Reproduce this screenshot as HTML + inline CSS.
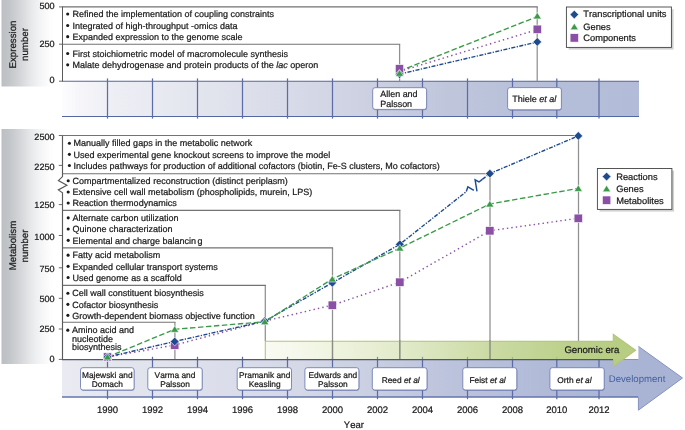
<!DOCTYPE html>
<html><head><meta charset="utf-8"><title>Figure</title>
<style>
html,body{margin:0;padding:0;background:#fff;}
svg{display:block;will-change:transform;}
text{font-family:"Liberation Sans",sans-serif;fill:#1a1a1a;text-rendering:geometricPrecision;font-kerning:none;stroke:#1a1a1a;stroke-width:0.22px;}
.t{font-size:9px;}
.a{font-size:9.5px;}
.b{font-size:8.45px;}
.l{font-size:9.3px;}
</style></head><body>
<svg width="685" height="430" viewBox="0 0 685 430">
<defs>
<linearGradient id="gp" gradientUnits="userSpaceOnUse" x1="0" x2="54" y1="0" y2="0"><stop offset="0" stop-color="#b9bcc0"/><stop offset="0.185" stop-color="#c4c7ca"/><stop offset="0.37" stop-color="#d3d5d8"/><stop offset="0.555" stop-color="#e5e7e9"/><stop offset="0.74" stop-color="#f3f4f5"/><stop offset="0.93" stop-color="#fdfdfd"/><stop offset="1" stop-color="#ffffff"/></linearGradient>
<linearGradient id="gb" gradientUnits="userSpaceOnUse" x1="62" x2="640" y1="0" y2="0"><stop offset="0" stop-color="#fdfdfe"/><stop offset="0.03" stop-color="#f6f6fa"/><stop offset="0.083" stop-color="#eeeff5"/><stop offset="0.24" stop-color="#e3e5ee"/><stop offset="0.41" stop-color="#d6d9e7"/><stop offset="0.52" stop-color="#cdd1e2"/><stop offset="0.67" stop-color="#bfc6dc"/><stop offset="0.76" stop-color="#bac2da"/><stop offset="0.86" stop-color="#b5bed9"/><stop offset="1" stop-color="#b2bcd8"/></linearGradient>
<linearGradient id="gb2" gradientUnits="userSpaceOnUse" x1="62" x2="640" y1="0" y2="0"><stop offset="0" stop-color="#eaebf2"/><stop offset="0.083" stop-color="#e4e6ee"/><stop offset="0.24" stop-color="#dddfeb"/><stop offset="0.41" stop-color="#d4d8e7"/><stop offset="0.52" stop-color="#cbd0e2"/><stop offset="0.67" stop-color="#bcc3dc"/><stop offset="0.76" stop-color="#b6bfda"/><stop offset="0.86" stop-color="#afb9d7"/><stop offset="1" stop-color="#a9b4d5"/></linearGradient>
<linearGradient id="gg" gradientUnits="userSpaceOnUse" x1="265" x2="625" y1="0" y2="0"><stop offset="0" stop-color="#c8d88a" stop-opacity="0.10"/><stop offset="0.38" stop-color="#b8cd80" stop-opacity="0.42"/><stop offset="0.63" stop-color="#b6cc80" stop-opacity="0.72"/><stop offset="0.87" stop-color="#b6cc80" stop-opacity="0.94"/><stop offset="1" stop-color="#b7cd82" stop-opacity="1"/></linearGradient>
<filter id="sh" x="-10%" y="-10%" width="130%" height="140%"><feGaussianBlur stdDeviation="0.6"/></filter>
</defs>
<rect width="685" height="430" fill="#fff"/>
<rect x="1.5" y="0" width="52.5" height="86.5" fill="url(#gp)"/>
<rect x="1.5" y="129" width="52.5" height="235" fill="url(#gp)"/>

<rect x="62" y="81" width="577" height="35.5" fill="url(#gb)"/>
<path d="M62,116.5H639" stroke="#5567a2" stroke-width="1" fill="none"/>
<path d="M62,81.2H639" stroke="#596899" stroke-width="1.1" fill="none"/>
<path d="M107.5,78.4V118.6" stroke="#5c6ca6" stroke-width="1.25"/>
<path d="M152.5,78.4V118.6" stroke="#5c6ca6" stroke-width="1.25"/>
<path d="M197.5,78.4V118.6" stroke="#5c6ca6" stroke-width="1.25"/>
<path d="M242.5,78.4V118.6" stroke="#5c6ca6" stroke-width="1.25"/>
<path d="M287.5,78.4V118.6" stroke="#5c6ca6" stroke-width="1.25"/>
<path d="M332.5,78.4V118.6" stroke="#5c6ca6" stroke-width="1.25"/>
<path d="M377.5,78.4V118.6" stroke="#5c6ca6" stroke-width="1.25"/>
<path d="M422.5,78.4V118.6" stroke="#5c6ca6" stroke-width="1.25"/>
<path d="M467.5,78.4V118.6" stroke="#5c6ca6" stroke-width="1.25"/>
<path d="M512.5,78.4V118.6" stroke="#5c6ca6" stroke-width="1.25"/>
<path d="M556.8,78.4V118.6" stroke="#5c6ca6" stroke-width="1.25"/>
<path d="M599.0,78.4V118.6" stroke="#5c6ca6" stroke-width="1.25"/>
<path d="M62,359.5H638.4V346.3L682.5,378L638.4,410.2V397H62Z" fill="url(#gb2)"/>
<path d="M62,359.5H638.4M638.4,346.3L682.5,378L638.4,410.2V397H62" stroke="#8593c0" stroke-width="1" fill="none"/>
<path d="M62,397H638" stroke="#5567a2" stroke-width="1" fill="none"/>
<path d="M107.5,356.8V399.2" stroke="#5c6ca6" stroke-width="1.25"/>
<path d="M152.5,356.8V399.2" stroke="#5c6ca6" stroke-width="1.25"/>
<path d="M197.5,356.8V399.2" stroke="#5c6ca6" stroke-width="1.25"/>
<path d="M242.5,356.8V399.2" stroke="#5c6ca6" stroke-width="1.25"/>
<path d="M287.5,356.8V399.2" stroke="#5c6ca6" stroke-width="1.25"/>
<path d="M332.5,356.8V399.2" stroke="#5c6ca6" stroke-width="1.25"/>
<path d="M377.5,356.8V399.2" stroke="#5c6ca6" stroke-width="1.25"/>
<path d="M422.5,356.8V399.2" stroke="#5c6ca6" stroke-width="1.25"/>
<path d="M467.5,356.8V399.2" stroke="#5c6ca6" stroke-width="1.25"/>
<path d="M512.5,356.8V399.2" stroke="#5c6ca6" stroke-width="1.25"/>
<path d="M556.8,356.8V399.2" stroke="#5c6ca6" stroke-width="1.25"/>
<path d="M599.0,356.8V399.2" stroke="#5c6ca6" stroke-width="1.25"/>
<path d="M537.2,6.9V81M399.6,44.2V81" stroke="#909090" stroke-width="1.25" fill="none"/>
<path d="M62.5,6.9H537.8M62.5,44.2H400.2" stroke="#737373" stroke-width="1.1" fill="none"/>
<path d="M62.5,6.4V81.3" stroke="#5a5a5a" stroke-width="1" fill="none"/>
<path d="M59,6.9H62.5M59,44.2H62.5M59,81.2H62.5" stroke="#5a5a5a" stroke-width="0.9" fill="none"/>
<path d="M578.5,135.5V341M490,173.8V359M399.8,210.4V359M332.5,247.9V359M265.3,285.4V341M174.9,322.2V359" stroke="#909090" stroke-width="1.25" fill="none"/>
<path d="M62.5,135.5H579.1M62.5,173.8H490.6M62.5,210.4H400.4M62.5,247.9H333.1M62.5,285.4H265.9M62.5,322.2H175.5" stroke="#737373" stroke-width="1.1" fill="none"/>
<path d="M62.5,135.5V176.6L58.4,180.6L66.9,185.3L58.3,189.9L62.5,192.9V359.4" stroke="#5a5a5a" stroke-width="1.15" fill="none"/>
<path d="M58.8,135.5H62.5 M58.8,165.4H62.5 M58.8,204.6H62.5 M58.8,235.5H62.5 M58.8,267.8H62.5 M58.8,298.3H62.5 M58.8,329.0H62.5 M58.8,359.4H62.5" stroke="#5a5a5a" stroke-width="0.9" fill="none"/>
<path d="M265.2,341H613.3V334.4L635.6,350.3L613.3,366.4V359.4H265.2Z" fill="url(#gg)"/>
<path d="M265.3,359.4V341.2H613.3V334.4L635.6,350.3L613.3,366.4V359.4" stroke="#b3c47a" stroke-width="1.1" fill="none"/>
<path d="M490,340V359M399.8,340V359M332.5,340V359" stroke="#8a8d84" stroke-width="1.25" fill="none"/>
<path d="M62,359.6H613" stroke="#50566e" stroke-width="1.2" fill="none"/>
<rect x="373.2" y="88.60000000000001" width="53.900000000000034" height="21.700000000000003" rx="2.4" fill="#5b689c" opacity="0.5" filter="url(#sh)"/>
<rect x="372.7" y="87.7" width="53.900000000000034" height="21.700000000000003" rx="2.4" fill="#fff" stroke="#7481b3" stroke-width="0.9"/>
<text x="380.3" y="96.9" style="font-size:8.95px">Allen and</text>
<text x="380.3" y="107.1" style="font-size:8.95px">Palsson</text>
<rect x="508.1" y="88.5" width="53.799999999999955" height="22.200000000000003" rx="2.4" fill="#5b689c" opacity="0.5" filter="url(#sh)"/>
<rect x="507.6" y="87.6" width="53.799999999999955" height="22.200000000000003" rx="2.4" fill="#fff" stroke="#7481b3" stroke-width="0.9"/>
<text x="512.3" y="102.0" style="font-size:9.0px">Thiele <tspan font-style="italic">et al</tspan></text>
<rect x="81.0" y="368.59999999999997" width="53.599999999999994" height="22.30000000000001" rx="2.4" fill="#5b689c" opacity="0.5" filter="url(#sh)"/>
<rect x="80.5" y="367.7" width="53.599999999999994" height="22.30000000000001" rx="2.4" fill="#fff" stroke="#7481b3" stroke-width="0.9"/>
<text x="107.3" y="377.9" text-anchor="middle" style="font-size:8.35px">Majewski and</text>
<text x="107.3" y="386.6" text-anchor="middle" style="font-size:8.35px">Domach</text>
<rect x="148.3" y="368.59999999999997" width="54.39999999999998" height="22.30000000000001" rx="2.4" fill="#5b689c" opacity="0.5" filter="url(#sh)"/>
<rect x="147.8" y="367.7" width="54.39999999999998" height="22.30000000000001" rx="2.4" fill="#fff" stroke="#7481b3" stroke-width="0.9"/>
<text x="175.0" y="377.9" text-anchor="middle" style="font-size:8.35px">Varma and</text>
<text x="175.0" y="386.6" text-anchor="middle" style="font-size:8.35px">Palsson</text>
<rect x="237.7" y="368.59999999999997" width="54.30000000000001" height="22.30000000000001" rx="2.4" fill="#5b689c" opacity="0.5" filter="url(#sh)"/>
<rect x="237.2" y="367.7" width="54.30000000000001" height="22.30000000000001" rx="2.4" fill="#fff" stroke="#7481b3" stroke-width="0.9"/>
<text x="264.65000000000003" y="377.9" text-anchor="middle" style="font-size:8.35px">Pramanik and</text>
<text x="264.65000000000003" y="386.6" text-anchor="middle" style="font-size:8.35px">Keasling</text>
<rect x="305.4" y="368.59999999999997" width="54.0" height="22.30000000000001" rx="2.4" fill="#5b689c" opacity="0.5" filter="url(#sh)"/>
<rect x="304.9" y="367.7" width="54.0" height="22.30000000000001" rx="2.4" fill="#fff" stroke="#7481b3" stroke-width="0.9"/>
<text x="332.9" y="377.9" text-anchor="middle" style="font-size:8.35px">Edwards and</text>
<text x="332.9" y="386.6" text-anchor="middle" style="font-size:8.35px">Palsson</text>
<rect x="372.8" y="368.59999999999997" width="54.69999999999999" height="22.30000000000001" rx="2.4" fill="#5b689c" opacity="0.5" filter="url(#sh)"/>
<rect x="372.3" y="367.7" width="54.69999999999999" height="22.30000000000001" rx="2.4" fill="#fff" stroke="#7481b3" stroke-width="0.9"/>
<text x="381.7" y="382.5" style="font-size:8.35px">Reed <tspan font-style="italic">et al</tspan></text>
<rect x="463.3" y="368.59999999999997" width="53.99999999999994" height="22.30000000000001" rx="2.4" fill="#5b689c" opacity="0.5" filter="url(#sh)"/>
<rect x="462.8" y="367.7" width="53.99999999999994" height="22.30000000000001" rx="2.4" fill="#fff" stroke="#7481b3" stroke-width="0.9"/>
<text x="469.5" y="382.5" style="font-size:8.35px">Feist <tspan font-style="italic">et al</tspan></text>
<rect x="550.4" y="368.59999999999997" width="54.30000000000007" height="22.30000000000001" rx="2.4" fill="#5b689c" opacity="0.5" filter="url(#sh)"/>
<rect x="549.9" y="367.7" width="54.30000000000007" height="22.30000000000001" rx="2.4" fill="#fff" stroke="#7481b3" stroke-width="0.9"/>
<text x="557.3" y="382.5" style="font-size:8.35px">Orth <tspan font-style="italic">et al</tspan></text>
<path d="M399.5,71.4L537.3,29.6" stroke="#8b4fa6" stroke-width="1.45" fill="none" stroke-dasharray="1.4 3.1"/>
<path d="M399.5,74.1L537.3,42.0" stroke="#1f4b8e" stroke-width="1.4" fill="none" stroke-dasharray="4.1 1.4 1.3 1.4"/>
<path d="M399.5,71.0L537.3,16.6" stroke="#3a9a48" stroke-width="1.35" fill="none" stroke-dasharray="5.5 2.5"/>
<rect x="395.3" y="64.6" width="8.4" height="8.4" fill="#8b4fa6" stroke="#fff" stroke-width="0.6"/>
<rect x="533.0999999999999" y="25.1" width="8.4" height="8.4" fill="#8b4fa6" stroke="#fff" stroke-width="0.6"/>
<path d="M399.5,69.85000000000001L403.85,74.2L399.5,78.55L395.15,74.2Z" fill="#1f4b8e" stroke="#fff" stroke-width="0.6"/>
<path d="M537.3,37.55L541.65,41.9L537.3,46.25L532.9499999999999,41.9Z" fill="#1f4b8e" stroke="#fff" stroke-width="0.6"/>
<path d="M399.5,69.7L403.6,76.3L395.4,76.3Z" fill="#3a9a48" stroke="#fff" stroke-width="0.6"/>
<path d="M537.3,12.3L541.4,18.9L533.1999999999999,18.9Z" fill="#3a9a48" stroke="#fff" stroke-width="0.6"/>
<path d="M107.5,357L174.7,345.1L264.8,321.1L332.3,305.2L399.8,282.2L489.8,230.8L578.3,218.3" stroke="#8b4fa6" stroke-width="1.45" fill="none" stroke-dasharray="1.4 3.1"/>
<path d="M107.5,357L174.7,341.5L264.8,321.1L332.3,282.8L399.8,244.3L466.3,191.6" stroke="#1f4b8e" stroke-width="1.4" fill="none" stroke-dasharray="4.1 1.4 1.3 1.4"/>
<path d="M466.3,191.6L467.9,186.8L473.9,190.3M477,191.3L475.1,179.8L479,182L482.3,179.4" stroke="#1f4b8e" stroke-width="1.45" fill="none" stroke-linejoin="miter"/>
<path d="M482.3,179.4L489.9,173.6L578.3,135.9" stroke="#1f4b8e" stroke-width="1.4" fill="none" stroke-dasharray="4.1 1.4 1.3 1.4"/>
<path d="M107.5,357L174.7,329.3L264.8,321.7L332.3,279L399.8,248.1L489.8,204L578.3,188.4" stroke="#3a9a48" stroke-width="1.35" fill="none" stroke-dasharray="5.5 2.5"/>
<rect x="103.3" y="352.8" width="8.4" height="8.4" fill="#8b4fa6" stroke="#fff" stroke-width="0.6"/>
<rect x="170.5" y="340.90000000000003" width="8.4" height="8.4" fill="#8b4fa6" stroke="#fff" stroke-width="0.6"/>
<rect x="328.1" y="301.0" width="8.4" height="8.4" fill="#8b4fa6" stroke="#fff" stroke-width="0.6"/>
<rect x="395.6" y="278.0" width="8.4" height="8.4" fill="#8b4fa6" stroke="#fff" stroke-width="0.6"/>
<rect x="485.6" y="226.60000000000002" width="8.4" height="8.4" fill="#8b4fa6" stroke="#fff" stroke-width="0.6"/>
<rect x="574.0999999999999" y="214.10000000000002" width="8.4" height="8.4" fill="#8b4fa6" stroke="#fff" stroke-width="0.6"/>
<path d="M107.5,352.65L111.85,357L107.5,361.35L103.15,357Z" fill="#1f4b8e" stroke="#fff" stroke-width="0.6"/>
<path d="M174.7,337.15L179.04999999999998,341.5L174.7,345.85L170.35,341.5Z" fill="#1f4b8e" stroke="#fff" stroke-width="0.6"/>
<path d="M264.8,316.75L269.15000000000003,321.1L264.8,325.45000000000005L260.45,321.1Z" fill="#1f4b8e" stroke="#fff" stroke-width="0.6"/>
<path d="M332.3,278.45L336.65000000000003,282.8L332.3,287.15000000000003L327.95,282.8Z" fill="#1f4b8e" stroke="#fff" stroke-width="0.6"/>
<path d="M399.8,239.95000000000002L404.15000000000003,244.3L399.8,248.65L395.45,244.3Z" fill="#1f4b8e" stroke="#fff" stroke-width="0.6"/>
<path d="M489.9,169.25L494.25,173.6L489.9,177.95L485.54999999999995,173.6Z" fill="#1f4b8e" stroke="#fff" stroke-width="0.6"/>
<path d="M578.3,131.55L582.65,135.9L578.3,140.25L573.9499999999999,135.9Z" fill="#1f4b8e" stroke="#fff" stroke-width="0.6"/>
<path d="M107.5,353.4L111.6,360.0L103.4,360.0Z" fill="#3a9a48" stroke="#fff" stroke-width="0.6"/>
<path d="M174.7,325.7L178.79999999999998,332.3L170.6,332.3Z" fill="#3a9a48" stroke="#fff" stroke-width="0.6"/>
<path d="M264.8,318.09999999999997L268.90000000000003,324.7L260.7,324.7Z" fill="#3a9a48" stroke="#fff" stroke-width="0.6"/>
<path d="M332.3,275.4L336.40000000000003,282.0L328.2,282.0Z" fill="#3a9a48" stroke="#fff" stroke-width="0.6"/>
<path d="M399.8,244.49999999999997L403.90000000000003,251.1L395.7,251.1Z" fill="#3a9a48" stroke="#fff" stroke-width="0.6"/>
<path d="M489.8,200.39999999999998L493.90000000000003,207.0L485.7,207.0Z" fill="#3a9a48" stroke="#fff" stroke-width="0.6"/>
<path d="M578.3,184.79999999999998L582.4,191.4L574.1999999999999,191.4Z" fill="#3a9a48" stroke="#fff" stroke-width="0.6"/>
<text class="a" x="54.6" y="9.4" text-anchor="end" style="font-size:9.1px">500</text>
<text class="a" x="54.6" y="47.0" text-anchor="end" style="font-size:9.1px">250</text>
<text class="a" x="54.6" y="83.2" text-anchor="end" style="font-size:9.1px">0</text>
<text class="a" x="54.6" y="139.8" text-anchor="end" style="font-size:9.1px">2500</text>
<text class="a" x="54.6" y="169.8" text-anchor="end" style="font-size:9.1px">2250</text>
<text class="a" x="54.6" y="208.0" text-anchor="end" style="font-size:9.1px">1250</text>
<text class="a" x="54.6" y="239.8" text-anchor="end" style="font-size:9.1px">1000</text>
<text class="a" x="54.6" y="271.6" text-anchor="end" style="font-size:9.1px">750</text>
<text class="a" x="54.6" y="301.5" text-anchor="end" style="font-size:9.1px">500</text>
<text class="a" x="54.6" y="331.6" text-anchor="end" style="font-size:9.1px">250</text>
<text class="a" x="54.6" y="361.8" text-anchor="end" style="font-size:9.1px">0</text>
<text class="a" x="107.5" y="412.9" text-anchor="middle">1990</text>
<text class="a" x="152.5" y="412.9" text-anchor="middle">1992</text>
<text class="a" x="197.5" y="412.9" text-anchor="middle">1994</text>
<text class="a" x="242.5" y="412.9" text-anchor="middle">1996</text>
<text class="a" x="287.5" y="412.9" text-anchor="middle">1998</text>
<text class="a" x="332.5" y="412.9" text-anchor="middle">2000</text>
<text class="a" x="377.5" y="412.9" text-anchor="middle">2002</text>
<text class="a" x="422.5" y="412.9" text-anchor="middle">2004</text>
<text class="a" x="467.5" y="412.9" text-anchor="middle">2006</text>
<text class="a" x="512.5" y="412.9" text-anchor="middle">2008</text>
<text class="a" x="556.8" y="412.9" text-anchor="middle">2010</text>
<text class="a" x="599.0" y="412.9" text-anchor="middle">2012</text>
<text class="a" x="353.9" y="427.9" text-anchor="middle" style="font-size:9.5px">Year</text>
<text class="a" style="font-size:9.7px" transform="translate(16.2,44.5) rotate(-90)" text-anchor="middle">Expression</text>
<text class="a" style="font-size:9.7px" transform="translate(27.8,44.5) rotate(-90)" text-anchor="middle">number</text>
<text class="a" style="font-size:9.7px" transform="translate(16.2,245.5) rotate(-90)" text-anchor="middle">Metabolism</text>
<text class="a" style="font-size:9.7px" transform="translate(27.8,246) rotate(-90)" text-anchor="middle">number</text>
<circle cx="67.7" cy="14.049999999999999" r="1.55" fill="#1a1a1a"/>
<text class="t" x="72.5" y="17.2">Refined the implementation of coupling constraints</text>
<circle cx="67.7" cy="25.450000000000003" r="1.55" fill="#1a1a1a"/>
<text class="t" x="72.5" y="28.6">Integrated of high-throughput -omics data</text>
<circle cx="67.7" cy="36.65" r="1.55" fill="#1a1a1a"/>
<text class="t" x="72.5" y="39.8">Expanded expression to the genome scale</text>
<circle cx="67.7" cy="53.45" r="1.55" fill="#1a1a1a"/>
<text class="t" x="72.5" y="56.6">First stoichiometric model of macromolecule synthesis</text>
<circle cx="67.7" cy="64.85" r="1.55" fill="#1a1a1a"/>
<text class="t" x="72.5" y="68.0">Malate dehydrogenase and protein products of the <tspan font-style="italic">lac</tspan> operon</text>
<circle cx="69.4" cy="143.25" r="1.55" fill="#1a1a1a"/>
<text class="t" x="73.6" y="146.4">Manually filled gaps in the metabolic network</text>
<circle cx="69.4" cy="154.35" r="1.55" fill="#1a1a1a"/>
<text class="t" x="73.6" y="157.5">Used experimental gene knockout screens to improve the model</text>
<circle cx="69.4" cy="165.45" r="1.55" fill="#1a1a1a"/>
<text class="t" x="73.6" y="168.6">Includes pathways for production of additional cofactors (biotin, Fe-S clusters, Mo cofactors)</text>
<circle cx="68.2" cy="180.75" r="1.55" fill="#1a1a1a"/>
<text class="t" x="72.6" y="183.9">Compartmentalized reconstruction (distinct periplasm)</text>
<circle cx="68.2" cy="192.04999999999998" r="1.55" fill="#1a1a1a"/>
<text class="t" x="72.6" y="195.2">Extensive cell wall metabolism (phospholipids, murein, LPS)</text>
<circle cx="68.2" cy="203.04999999999998" r="1.55" fill="#1a1a1a"/>
<text class="t" x="72.6" y="206.2">Reaction thermodynamics</text>
<circle cx="68.2" cy="217.85" r="1.55" fill="#1a1a1a"/>
<text class="t" x="72.5" y="221.0">Alternate carbon utilization</text>
<circle cx="68.2" cy="229.04999999999998" r="1.55" fill="#1a1a1a"/>
<text class="t" x="72.5" y="232.2">Quinone characterization</text>
<circle cx="68.2" cy="240.35" r="1.55" fill="#1a1a1a"/>
<text class="t" x="72.5" y="243.5">Elemental and charge balancin<tspan dx="1.3">g</tspan></text>
<circle cx="68.1" cy="255.15" r="1.55" fill="#1a1a1a"/>
<text class="t" x="72.6" y="258.3">Fatty acid metabolism</text>
<circle cx="68.1" cy="266.35" r="1.55" fill="#1a1a1a"/>
<text class="t" x="72.6" y="269.5">Expanded cellular transport systems</text>
<circle cx="68.1" cy="277.55" r="1.55" fill="#1a1a1a"/>
<text class="t" x="72.6" y="280.7">Used genome as a scaffold</text>
<circle cx="67.9" cy="293.25" r="1.55" fill="#1a1a1a"/>
<text class="t" x="72.2" y="296.4">Cell wall constituent biosynthesis</text>
<circle cx="67.9" cy="304.35" r="1.55" fill="#1a1a1a"/>
<text class="t" x="72.2" y="307.5">Cofactor biosynthesis</text>
<circle cx="67.9" cy="315.35" r="1.55" fill="#1a1a1a"/>
<text class="t" x="72.2" y="318.5">Growth-dependent biomass objective function</text>
<circle cx="67.8" cy="330.15000000000003" r="1.55" fill="#1a1a1a"/>
<text class="t" x="72.0" y="333.3">Amino acid and</text>
<text class="t" x="72.0" y="341.7">nucleotide</text>
<text class="t" x="72.0" y="349.7">biosynthesis</text>
<text x="564.4" y="353.4" style="font-size:9.6px">Genomic era</text>
<text x="608.8" y="381.8" style="font-size:9.6px;fill:#42609f;stroke:none">Development</text>
<rect x="568.6" y="9.2" width="105.0" height="40.4" fill="#9a9a9a" opacity="0.45" filter="url(#sh)"/>
<rect x="566.4" y="7.0" width="105.0" height="40.4" fill="#fff" stroke="#444" stroke-width="0.9"/>
<path d="M574.3,10.25L578.65,14.6L574.3,18.95L569.9499999999999,14.6Z" fill="#1f4b8e" stroke="#fff" stroke-width="0.6"/>
<path d="M574.3,23.2L578.4,29.8L570.1999999999999,29.8Z" fill="#3a9a48" stroke="#fff" stroke-width="0.6"/>
<rect x="570.0999999999999" y="33.699999999999996" width="8.4" height="8.4" fill="#8b4fa6" stroke="#fff" stroke-width="0.6"/>
<text class="l" x="583.3" y="17.2" fill="#000">Transcriptional units</text>
<text class="l" x="583.3" y="29.7" fill="#000">Genes</text>
<text class="l" x="583.3" y="41.2" fill="#000">Components</text>
<rect x="599.6" y="170.7" width="74.5" height="40.900000000000006" fill="#9a9a9a" opacity="0.45" filter="url(#sh)"/>
<rect x="597.4" y="168.5" width="74.5" height="40.900000000000006" fill="#fff" stroke="#444" stroke-width="0.9"/>
<path d="M606.6,172.25L610.95,176.6L606.6,180.95L602.25,176.6Z" fill="#1f4b8e" stroke="#fff" stroke-width="0.6"/>
<path d="M606.6,185.2L610.7,191.8L602.5,191.8Z" fill="#3a9a48" stroke="#fff" stroke-width="0.6"/>
<rect x="602.4" y="196.0" width="8.4" height="8.4" fill="#8b4fa6" stroke="#fff" stroke-width="0.6"/>
<text class="l" x="616.2" y="179.7" fill="#000">Reactions</text>
<text class="l" x="616.2" y="191.9" fill="#000">Genes</text>
<text class="l" x="616.2" y="203.6" fill="#000">Metabolites</text>
</svg></body></html>
